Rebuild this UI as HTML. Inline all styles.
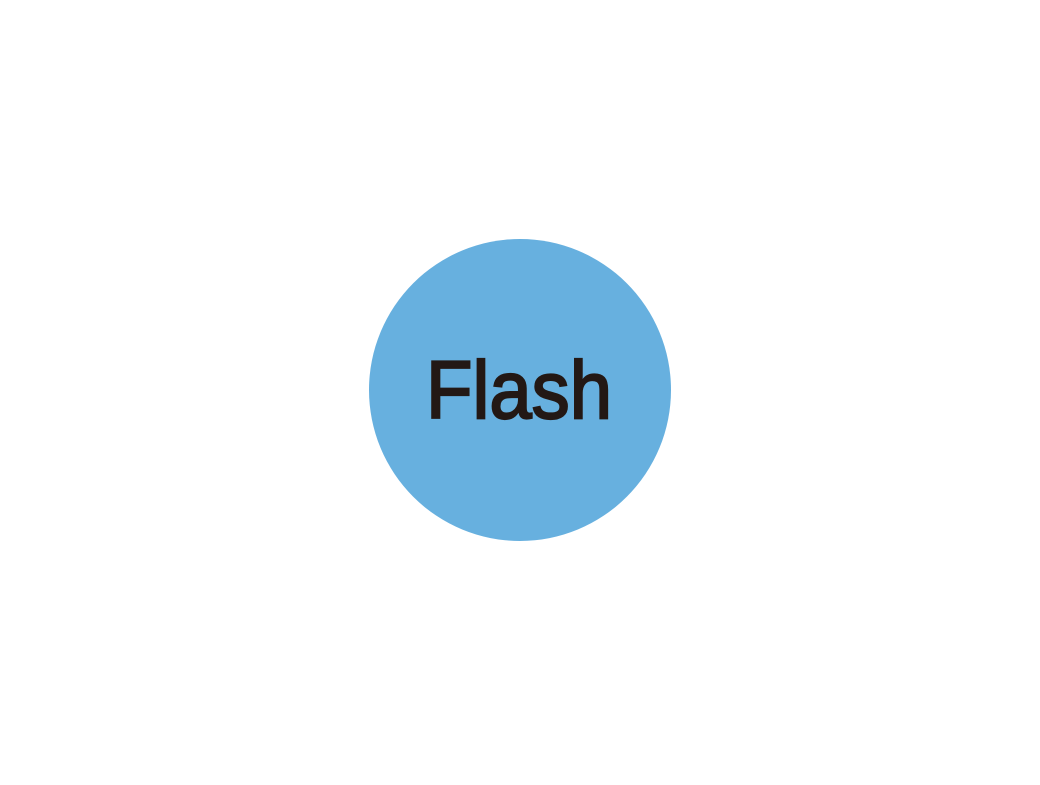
<!DOCTYPE html>
<html><head><style>html,body{margin:0;padding:0;background:#fff;}</style></head>
<body>
<svg width="1040" height="780" viewBox="0 0 1040 780" xmlns="http://www.w3.org/2000/svg">
<circle cx="520" cy="390" r="151" fill="#67b0df"/>
<text x="426" y="418" font-family="Liberation Sans, Arial, sans-serif" font-size="82" fill="#231815" stroke="#231815" stroke-width="2.2" textLength="186" lengthAdjust="spacingAndGlyphs">Flash</text>
</svg>
</body></html>
